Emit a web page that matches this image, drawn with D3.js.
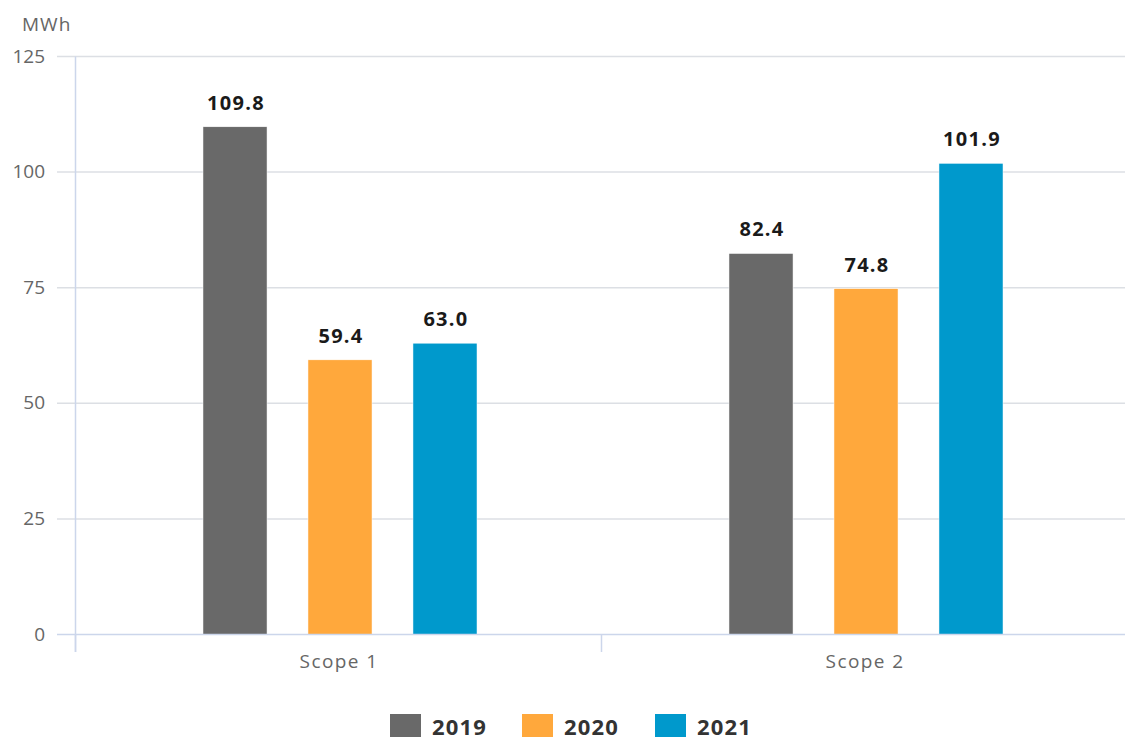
<!DOCTYPE html>
<html><head><meta charset="utf-8">
<script src="https://cdn.jsdelivr.net/npm/d3@7"></script>
<style>
body{margin:0;background:#fff;}
svg{font-family:"Open Sans",sans-serif;}
</style></head>
<body><svg id="c" width="1125" height="740"></svg>
<script>
const categories = ["Scope 1","Scope 2"];
const years = ["2019","2020","2021"];
const v2019 = [109.8, 82.4];
const v2020 = [59.4, 74.8];
const v2021 = [63.0, 101.9];
const colors = ["#696969","#ffa83c","#0099cc"];
const yTicks = [0,25,50,75,100,125];
const unit = "MWh";

(function(){
const series = [v2019, v2020, v2021];
const svg = d3.select("#c");
const pLeft = 75, pRight = 1127, pTop = 56.5, pBottom = 634.5;

const y = d3.scaleLinear().domain([0,125]).range([pBottom, pTop]);
const x0 = d3.scaleBand().domain(categories).range([pLeft, pRight]).paddingInner(0).paddingOuter(0);
const x1 = d3.scaleBand().domain(years).range([0, x0.bandwidth()]).paddingInner(0.39).paddingOuter(1.2);

// gridlines
svg.append("g").selectAll("line").data(yTicks.filter(d=>d>0)).join("line")
  .attr("x1", 57).attr("x2", 1125)
  .attr("y1", d=>y(d)).attr("y2", d=>y(d))
  .attr("stroke", "#dcdfe4").attr("stroke-width", 1.5);

// y axis line
svg.append("line").attr("x1", pLeft+0.5).attr("x2", pLeft+0.5).attr("y1", pTop).attr("y2", 652)
  .attr("stroke", "#ccd6eb").attr("stroke-width", 1.5);

// y tick labels
svg.append("g").selectAll("text").data(yTicks).join("text")
  .attr("x", 45).attr("y", d=>y(d)+6)
  .attr("text-anchor","end").attr("font-size", 19).attr("fill","#666")
  .text(d=>d);

svg.append("text").attr("x", 22).attr("y", 31).attr("font-size", 19).attr("fill","#666")
  .attr("letter-spacing", 1).text(unit);

// bars
categories.forEach((cat, ci) => {
  const g = svg.append("g").attr("transform", `translate(${x0(cat)+2},0)`);
  series.forEach((s, si) => {
    const xv = x1(years[si]);
    g.append("rect")
      .attr("x", xv).attr("y", y(s[ci]))
      .attr("width", x1.bandwidth()).attr("height", y(0)-y(s[ci]))
      .attr("fill", colors[si]).attr("stroke","#fff").attr("stroke-width",0.5);
    g.append("text")
      .attr("x", xv + x1.bandwidth()/2 + 1).attr("y", y(s[ci]) - 17)
      .attr("text-anchor","middle").attr("font-size", 20).attr("font-weight","bold")
      .attr("fill","#1a1a1a").attr("letter-spacing", 1.3)
      .text(s[ci].toFixed(1));
  });
});

// x axis line
svg.append("line").attr("x1", 57).attr("x2", 1125).attr("y1", pBottom).attr("y2", pBottom)
  .attr("stroke", "#ccd6eb").attr("stroke-width", 1.5);
// x ticks
svg.append("g").selectAll("line").data([...categories.map(c=>x0(c)), pRight]).join("line")
  .attr("x1", d=>d+0.5).attr("x2", d=>d+0.5).attr("y1", pBottom).attr("y2", 652)
  .attr("stroke", "#ccd6eb").attr("stroke-width", 1.5);
// x labels
svg.append("g").selectAll("text").data(categories).join("text")
  .attr("x", d=>x0(d)+x0.bandwidth()/2+1).attr("y", 668)
  .attr("text-anchor","middle").attr("font-size", 19).attr("fill","#666")
  .attr("letter-spacing", 1.4)
  .text(d=>d);

// legend
const legX = [390, 522, 655];
const lg = svg.append("g");
years.forEach((yr, i) => {
  lg.append("rect").attr("x", legX[i]).attr("y", 714).attr("width", 31).attr("height", 23).attr("fill", colors[i]);
  lg.append("text").attr("x", legX[i]+42).attr("y", 735).attr("font-size", 22).attr("font-weight","bold")
    .attr("fill","#333").attr("letter-spacing", 1.2).text(yr);
});
})();
</script></body></html>
